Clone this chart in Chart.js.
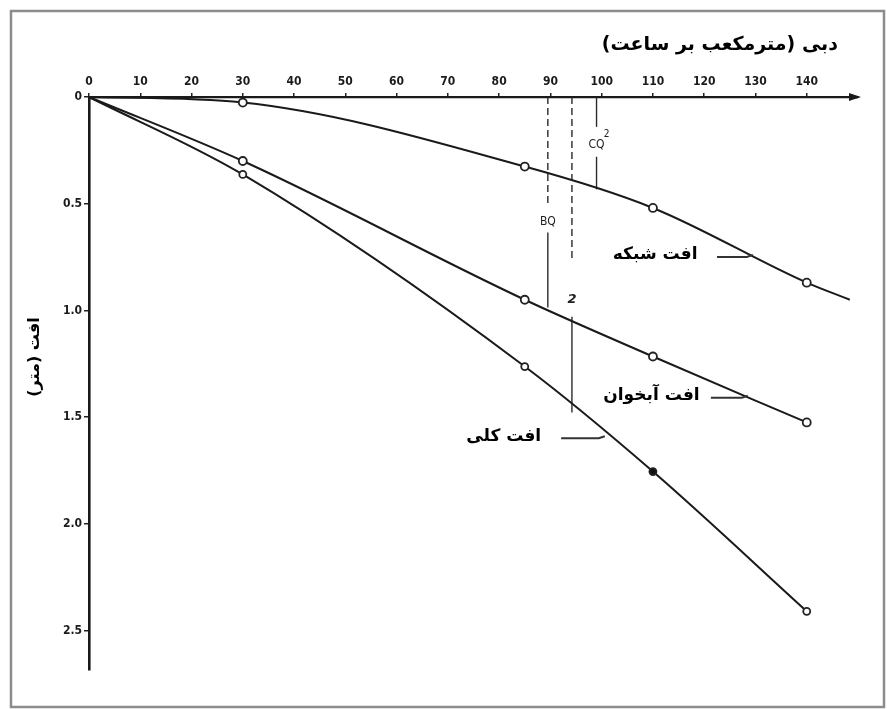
<!DOCTYPE html>
<html lang="fa">
<head>
<meta charset="utf-8">
<title>افت - دبی</title>
<script src="https://cdn.jsdelivr.net/npm/chart.js@4.4.1/dist/chart.umd.min.js"></script>
<style>
  html, body { margin: 0; padding: 0; background: #fff; }
  #wrap { width: 887px; height: 709px; }
</style>
</head>
<body>
<div id="wrap"><canvas id="lossChart" width="887" height="709"></canvas></div>
<script>
// discharge Q (m3/h) and head loss s (m)
const flowQ = [0, 30, 85, 110, 140];
const networkQ = [0, 30, 85, 110, 140, 148.4];
const networkLoss = [0, 0.026, 0.326, 0.52, 0.87, 0.95];
const aquiferLoss = [0, 0.30, 0.95, 1.216, 1.525];
const totalLoss = [0, 0.363, 1.263, 1.755, 2.41];

const qTicks = [0, 10, 20, 30, 40, 50, 60, 70, 80, 90, 100, 110, 120, 130, 140];
const sTicks = [0, 0.5, 1.0, 1.5, 2.0, 2.5];

const xTitle = 'دبی (مترمکعب بر ساعت)';
const yTitle = 'افت (متر)';

// curve names with their leader lines (data units)
const callouts = [
  { text: 'افت شبکه', q: 118.7, s: 0.74, from: 122.5, to: 129.5 },
  { text: 'افت آبخوان', q: 119.1, s: 1.40, from: 121.3, to: 128.5 },
  { text: 'افت کلی', q: 88.2, s: 1.59, from: 92.1, to: 100.6 }
];

// construction lines: [sFrom, sTo, dashed]
const guides = [
  { q: 89.5, parts: [[0, 0.51, true], [0.635, 0.986, false]], label: 'BQ', at: 0.585 },
  { q: 94.2, parts: [[0, 0.76, true], [1.03, 1.478, false]], label: '2', at: 0.95 },
  { q: 99, parts: [[0, 0.14, false], [0.28, 0.433, false]], label: 'CQ', sup: '2', at: 0.225 }
];

const INK = '#1a1a1a';
const tickFont = { family: "'Liberation Sans Narrow', 'DejaVu Sans Condensed', sans-serif", size: 12, weight: 'bold' };
const faFont = "'DejaVu Sans', sans-serif";

function toPoints(xs, ys) {
  return xs.map((q, i) => ({ x: q, y: ys[i] }));
}

const sketchPlugin = {
  id: 'sketch',
  beforeDraw(chart) {
    const ctx = chart.ctx;
    ctx.save();
    ctx.fillStyle = '#fff';
    ctx.fillRect(0, 0, chart.width, chart.height);
    ctx.strokeStyle = '#8c8c8c';
    ctx.lineWidth = 2.5;
    ctx.strokeRect(11, 11, chart.width - 14, chart.height - 13);
    ctx.restore();
  },
  beforeDatasetsDraw(chart) {
    const ctx = chart.ctx;
    const xs = chart.scales.x, ys = chart.scales.y;
    ctx.save();
    ctx.strokeStyle = '#2a2a2a';
    ctx.lineWidth = 1.4;
    guides.forEach(g => {
      const px = xs.getPixelForValue(g.q);
      g.parts.forEach(p => {
        ctx.setLineDash(p[2] ? [7, 4] : []);
        ctx.beginPath();
        ctx.moveTo(px, ys.getPixelForValue(p[0]));
        ctx.lineTo(px, ys.getPixelForValue(p[1]));
        ctx.stroke();
      });
      ctx.setLineDash([]);
      ctx.fillStyle = '#222';
      ctx.textBaseline = 'middle';
      ctx.textAlign = 'center';
      const py = ys.getPixelForValue(g.at);
      if (g.label === '2') {
        ctx.font = "italic bold 13px 'DejaVu Sans', sans-serif";
        ctx.fillText(g.label, px, py);
      } else {
        ctx.font = "12px 'DejaVu Sans Condensed', sans-serif";
        ctx.fillText(g.label, px, py);
        if (g.sup) {
          const w = ctx.measureText(g.label).width;
          ctx.font = "10px 'DejaVu Sans Condensed', sans-serif";
          ctx.fillText(g.sup, px + w / 2 + 2, py - 11);
        }
      }
    });
    ctx.restore();
  },
  afterDraw(chart) {
    const ctx = chart.ctx;
    const area = chart.chartArea;
    const xs = chart.scales.x, ys = chart.scales.y;
    ctx.save();
    // arrow head of the discharge axis
    ctx.fillStyle = INK;
    ctx.beginPath();
    ctx.moveTo(area.right + 3, area.top);
    ctx.lineTo(area.right - 9, area.top - 4);
    ctx.lineTo(area.right - 9, area.top + 4);
    ctx.closePath();
    ctx.fill();

    // curve labels
    callouts.forEach(c => {
      const y = ys.getPixelForValue(c.s);
      const right = xs.getPixelForValue(c.q);
      ctx.font = 'bold 17px ' + faFont;
      ctx.direction = 'rtl';
      ctx.textAlign = 'right';
      ctx.textBaseline = 'middle';
      const w = ctx.measureText(c.text).width;
      ctx.fillStyle = '#fff';
      ctx.fillRect(right - w - 5, y - 14, w + 10, 28);
      ctx.fillStyle = '#000';
      ctx.fillText(c.text, right, y);
      ctx.strokeStyle = '#333';
      ctx.lineWidth = 2;
      ctx.beginPath();
      ctx.moveTo(xs.getPixelForValue(c.from), y + 2);
      ctx.lineTo(xs.getPixelForValue(c.to) - 6, y + 2);
      ctx.lineTo(xs.getPixelForValue(c.to), y);
      ctx.stroke();
    });

    // discharge title
    ctx.fillStyle = '#000';
    ctx.font = 'bold 19px ' + faFont;
    ctx.direction = 'rtl';
    ctx.textAlign = 'right';
    ctx.textBaseline = 'middle';
    ctx.fillText(xTitle, 838, 45);

    // loss title, rotated
    ctx.translate(35, 357);
    ctx.rotate(-Math.PI / 2);
    ctx.textAlign = 'center';
    ctx.font = 'bold 16px ' + faFont;
    ctx.fillText(yTitle, 0, 0);
    ctx.restore();
  }
};

const lineStyle = {
  borderColor: INK,
  borderWidth: 2,
  pointBorderColor: '#222',
  pointBorderWidth: 1.8,
  pointRadius: 4,
  pointBackgroundColor: '#fff',
  cubicInterpolationMode: 'monotone',
  clip: false
};

new Chart(document.getElementById('lossChart'), {
  type: 'line',
  data: {
    datasets: [
      Object.assign({}, lineStyle, {
        label: 'افت شبکه',
        data: toPoints(networkQ, networkLoss),
        pointRadius: networkQ.map((q, i) => (i === 0 || i === networkQ.length - 1) ? 0 : 4)
      }),
      Object.assign({}, lineStyle, {
        label: 'افت آبخوان',
        data: toPoints(flowQ, aquiferLoss),
        pointRadius: flowQ.map((q, i) => i === 0 ? 0 : 4)
      }),
      Object.assign({}, lineStyle, {
        label: 'افت کلی',
        data: toPoints(flowQ, totalLoss),
        pointRadius: flowQ.map((q, i) => i === 0 ? 0 : 3.5),
        pointBackgroundColor: flowQ.map(q => q === 110 ? '#111' : '#fff')
      })
    ]
  },
  options: {
    responsive: false,
    devicePixelRatio: 1,
    animation: false,
    events: [],
    layout: { padding: { left: 0, top: 0, right: 29, bottom: 39 } },
    plugins: { legend: { display: false }, tooltip: { enabled: false } },
    scales: {
      x: {
        type: 'linear',
        position: 'top',
        min: 0,
        max: 150,
        afterBuildTicks: s => { s.ticks = qTicks.map(v => ({ value: v })); },
        afterFit: s => { s.height = 97; },
        ticks: { font: tickFont, color: '#1b1b1b', padding: 4, maxRotation: 0, autoSkip: false },
        grid: { drawOnChartArea: false, drawTicks: true, tickLength: 4, color: '#222', lineWidth: 1.5 },
        border: { display: true, color: INK, width: 2.2 }
      },
      y: {
        type: 'linear',
        position: 'left',
        reverse: true,
        min: 0,
        max: 2.685,
        afterBuildTicks: s => { s.ticks = sTicks.map(v => ({ value: v })); },
        afterFit: s => { s.width = 89; },
        ticks: {
          font: tickFont,
          color: '#1b1b1b',
          padding: 2,
          autoSkip: false,
          callback: v => v === 0 ? '0' : v.toFixed(1)
        },
        grid: { drawOnChartArea: false, drawTicks: true, tickLength: 5, color: '#222', lineWidth: 1.5 },
        border: { display: true, color: INK, width: 2.6 }
      }
    }
  },
  plugins: [sketchPlugin]
});
</script>
</body>
</html>
